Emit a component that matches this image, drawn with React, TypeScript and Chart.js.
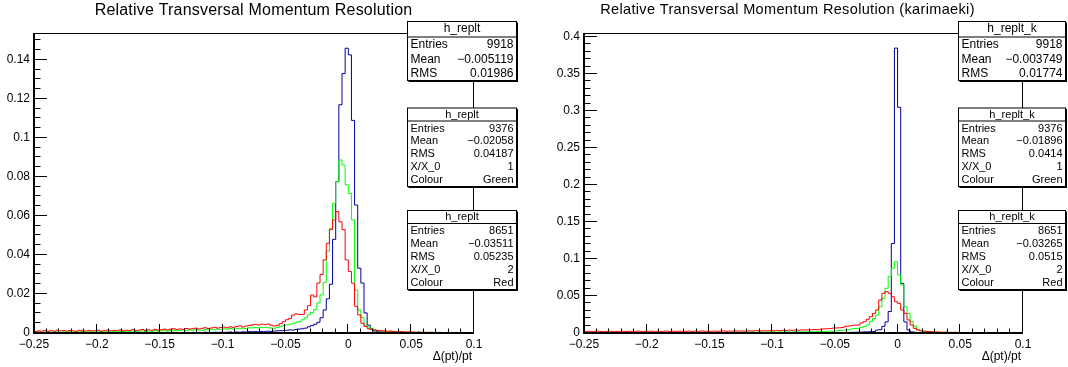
import React, { useEffect, useRef } from "react";
import { Chart, registerables } from "chart.js";

Chart.register(...registerables);

const FONT = "'Liberation Sans', Arial, Helvetica, sans-serif";

// Shared histogram binning: 140 bins of 0.0025 between -0.25 and 0.1
const BIN_LOW = -0.25;
const BIN_HIGH = 0.1;
const BIN_COUNT = 140;

const xTickValues = [-0.25, -0.2, -0.15, -0.1, -0.05, 0, 0.05, 0.1];
const xTickLabels = ["\u22120.25", "\u22120.2", "\u22120.15", "\u22120.1", "\u22120.05", "0", "0.05", "0.1"];
const yTickValuesStd = [0, 0.02, 0.04, 0.06, 0.08, 0.1, 0.12, 0.14];
const yTickLabelsStd = ["0", "0.02", "0.04", "0.06", "0.08", "0.1", "0.12", "0.14"];
const yTickValuesKari = [0, 0.05, 0.1, 0.15, 0.2, 0.25, 0.3, 0.35, 0.4];
const yTickLabelsKari = ["0", "0.05", "0.1", "0.15", "0.2", "0.25", "0.3", "0.35", "0.4"];

// h_replt: standard fit, normalised bin contents
const replBlue = [
  0, 0, 0, 0.0001, 0, 0, 0, 0, 0.0001, 0,
  0, 0, 0.0001, 0, 0, 0, 0.0001, 0, 0, 0.0001,
  0, 0.0001, 0, 0, 0.0001, 0, 0.0001, 0, 0.0001, 0.0001,
  0, 0.0001, 0.0002, 0.0001, 0, 0.0001, 0.0002, 0.0001, 0.0001, 0.0002,
  0.0001, 0.0002, 0.0001, 0.0002, 0.0003, 0.0002, 0.0001, 0.0002, 0.0003, 0.0002,
  0.0003, 0.0002, 0.0003, 0.0002, 0.0004, 0.0003, 0.0002, 0.0004, 0.0003, 0.0004,
  0.0003, 0.0004, 0.0005, 0.0003, 0.0005, 0.0004, 0.0006, 0.0005, 0.0007, 0.0006,
  0.0007, 0.0006, 0.0008, 0.0007, 0.0009, 0.0008, 0.001, 0.0011, 0.0012, 0.0013,
  0.0014, 0.0016, 0.0015, 0.0018, 0.002, 0.0022, 0.0025, 0.0032, 0.0038, 0.0045,
  0.0055, 0.0078, 0.0118, 0.0175, 0.025, 0.048, 0.0776, 0.117, 0.133, 0.146,
  0.1426, 0.109, 0.0656, 0.0332, 0.0256, 0.0103, 0.004, 0.002, 0.001, 0.0006,
  0.0005, 0.0004, 0.0003, 0.0003, 0.0002, 0.0002, 0.0001, 0.0002, 0.0001, 0.0001,
  0.0001, 0, 0.0001, 0, 0.0001, 0, 0, 0.0001, 0, 0,
  0, 0.0001, 0, 0, 0, 0, 0.0001, 0, 0, 0,
];
const replGreen = [
  0.0004, 0.0006, 0.0003, 0.0005, 0.0007, 0.0004, 0.0006, 0.0005, 0.0003, 0.0006,
  0.0005, 0.0007, 0.0004, 0.0006, 0.0005, 0.0008, 0.0004, 0.0006, 0.0007, 0.0005,
  0.0006, 0.0008, 0.0005, 0.0007, 0.0006, 0.0009, 0.0006, 0.0008, 0.0007, 0.0009,
  0.0008, 0.001, 0.0007, 0.0009, 0.0011, 0.0008, 0.001, 0.0009, 0.0012, 0.001,
  0.0011, 0.0013, 0.001, 0.0012, 0.0014, 0.0011, 0.0013, 0.0015, 0.0012, 0.0016,
  0.0014, 0.0017, 0.0015, 0.0013, 0.0018, 0.0016, 0.0019, 0.0017, 0.002, 0.0018,
  0.0021, 0.0019, 0.0023, 0.002, 0.0024, 0.0022, 0.0025, 0.0023, 0.0027, 0.0026,
  0.0028, 0.0026, 0.003, 0.0029, 0.0027, 0.0025, 0.0024, 0.0028, 0.0034, 0.0038,
  0.0042, 0.0045, 0.0048, 0.0055, 0.0058, 0.0068, 0.0078, 0.0093, 0.0105, 0.012,
  0.0154, 0.0195, 0.026, 0.042, 0.0537, 0.0665, 0.0776, 0.0887, 0.0862, 0.076,
  0.0715, 0.058, 0.022, 0.0118, 0.008, 0.004, 0.003, 0.002, 0.0016, 0.0013,
  0.0011, 0.001, 0.0008, 0.0009, 0.0007, 0.0006, 0.0007, 0.0005, 0.0004, 0.0005,
  0.0004, 0.0003, 0.0004, 0.0003, 0.0002, 0.0003, 0.0002, 0.0002, 0.0003, 0.0001,
  0.0002, 0.0002, 0.0001, 0.0002, 0.0001, 0.0001, 0.0002, 0.0001, 0.0001, 0.0001,
];
const replRed = [
  0.0008, 0.0011, 0.0009, 0.0013, 0.001, 0.0012, 0.0009, 0.0014, 0.0011, 0.0013,
  0.001, 0.0013, 0.0011, 0.0009, 0.0014, 0.0012, 0.001, 0.0013, 0.0011, 0.0012,
  0.0014, 0.001, 0.0012, 0.0015, 0.0011, 0.0013, 0.0012, 0.0016, 0.0011, 0.0014,
  0.0013, 0.0017, 0.0012, 0.0015, 0.0018, 0.0013, 0.0016, 0.0014, 0.0019, 0.0015,
  0.0017, 0.002, 0.0016, 0.0019, 0.0022, 0.0018, 0.0021, 0.0019, 0.0023, 0.002,
  0.0022, 0.0025, 0.0021, 0.0024, 0.0027, 0.0023, 0.0026, 0.0029, 0.0025, 0.0028,
  0.003, 0.0027, 0.0032, 0.0029, 0.0033, 0.0036, 0.0031, 0.0035, 0.0039, 0.0042,
  0.0044, 0.0041, 0.0045, 0.0043, 0.0046, 0.004, 0.0036, 0.0039, 0.0048, 0.0058,
  0.0068, 0.0075, 0.0092, 0.0098, 0.0095, 0.0095, 0.0118, 0.014, 0.0195, 0.0185,
  0.0256, 0.03, 0.0375, 0.046, 0.053, 0.058, 0.0622, 0.057, 0.053, 0.0375,
  0.0315, 0.0256, 0.0137, 0.0093, 0.005, 0.0034, 0.0022, 0.0018, 0.0016, 0.0013,
  0.0012, 0.0011, 0.0009, 0.001, 0.0008, 0.0007, 0.0008, 0.0006, 0.0005, 0.0006,
  0.0005, 0.0004, 0.0005, 0.0003, 0.0004, 0.0003, 0.0004, 0.0002, 0.0003, 0.0003,
  0.0002, 0.0003, 0.0002, 0.0002, 0.0003, 0.0001, 0.0002, 0.0002, 0.0001, 0.0002,
];

// h_replt_k: Karimaeki fit, normalised bin contents
const replKBlue = [
  0, 0, 0, 0, 0.0001, 0, 0, 0, 0, 0,
  0, 0, 0, 0.0001, 0, 0, 0, 0, 0, 0.0001,
  0, 0, 0, 0, 0, 0.0001, 0, 0, 0, 0,
  0.0001, 0, 0, 0, 0.0001, 0, 0, 0.0001, 0, 0,
  0, 0.0001, 0, 0, 0.0001, 0, 0.0001, 0, 0.0001, 0,
  0.0001, 0, 0.0001, 0.0002, 0, 0.0001, 0.0001, 0.0002, 0.0001, 0.0001,
  0.0002, 0.0001, 0.0002, 0.0002, 0.0001, 0.0003, 0.0002, 0.0002, 0.0003, 0.0002,
  0.0003, 0.0003, 0.0002, 0.0004, 0.0003, 0.0004, 0.0003, 0.0005, 0.0004, 0.0004,
  0.0004, 0.0005, 0.0006, 0.0007, 0.0008, 0.0009, 0.001, 0.0011, 0.0012, 0.0015,
  0.0015, 0.002, 0.002, 0.004, 0.0045, 0.009, 0.015, 0.029, 0.121, 0.385,
  0.305, 0.067, 0.015, 0.004, 0.0015, 0.001, 0.0007, 0.0005, 0.0004, 0.0003,
  0.0003, 0.0002, 0.0002, 0.0001, 0.0002, 0.0001, 0.0001, 0, 0.0001, 0,
  0.0001, 0, 0, 0.0001, 0, 0, 0, 0, 0.0001, 0,
  0, 0, 0, 0, 0, 0, 0, 0, 0, 0,
];
const replKGreen = [
  0.0005, 0.0008, 0.0006, 0.0004, 0.0007, 0.0005, 0.0009, 0.0006, 0.0005, 0.0007,
  0.0006, 0.0008, 0.0005, 0.0007, 0.0009, 0.0006, 0.0005, 0.0008, 0.0007, 0.0006,
  0.0008, 0.0006, 0.0009, 0.0007, 0.0005, 0.0008, 0.0007, 0.001, 0.0006, 0.0008,
  0.0007, 0.0009, 0.0008, 0.0006, 0.001, 0.0008, 0.0007, 0.0009, 0.0011, 0.0008,
  0.0009, 0.0008, 0.0011, 0.001, 0.0008, 0.0012, 0.0009, 0.001, 0.0011, 0.0009,
  0.0012, 0.001, 0.0011, 0.0013, 0.001, 0.0012, 0.0014, 0.0011, 0.0013, 0.0012,
  0.0014, 0.0012, 0.0015, 0.0013, 0.0016, 0.0014, 0.0013, 0.0017, 0.0015, 0.0016,
  0.0015, 0.0017, 0.0016, 0.0014, 0.0018, 0.0018, 0.002, 0.0022, 0.0025, 0.0024,
  0.0028, 0.0032, 0.0036, 0.004, 0.0045, 0.0055, 0.006, 0.0063, 0.0075, 0.0086,
  0.0108, 0.0153, 0.0198, 0.0243, 0.0356, 0.0469, 0.0604, 0.0761, 0.0874, 0.0964,
  0.0784, 0.0649, 0.0356, 0.0266, 0.0153, 0.0095, 0.005, 0.003, 0.0025, 0.002,
  0.0016, 0.0014, 0.0012, 0.001, 0.0009, 0.0008, 0.0007, 0.0008, 0.0006, 0.0005,
  0.0006, 0.0004, 0.0005, 0.0004, 0.0003, 0.0004, 0.0003, 0.0002, 0.0003, 0.0002,
  0.0002, 0.0003, 0.0002, 0.0001, 0.0002, 0.0002, 0.0001, 0.0002, 0.0001, 0.0001,
];
const replKRed = [
  0.0019, 0.0023, 0.0018, 0.0021, 0.0025, 0.002, 0.0017, 0.0022, 0.0024, 0.0019,
  0.0021, 0.0018, 0.0023, 0.002, 0.0024, 0.0019, 0.0022, 0.0026, 0.002, 0.0023,
  0.0022, 0.0025, 0.0019, 0.0024, 0.0021, 0.0023, 0.0026, 0.002, 0.0024, 0.0022,
  0.0025, 0.0021, 0.0024, 0.0027, 0.0022, 0.0025, 0.0023, 0.0027, 0.0024, 0.0021,
  0.0024, 0.0027, 0.0023, 0.0026, 0.0028, 0.0024, 0.0027, 0.0025, 0.0029, 0.0026,
  0.0028, 0.0025, 0.003, 0.0027, 0.0029, 0.0032, 0.0028, 0.0031, 0.003, 0.0034,
  0.0031, 0.0035, 0.0033, 0.0037, 0.0034, 0.0038, 0.0036, 0.004, 0.0038, 0.0042,
  0.004, 0.0044, 0.0043, 0.0047, 0.0045, 0.005, 0.0055, 0.0058, 0.006, 0.0065,
  0.0068, 0.007, 0.0075, 0.009, 0.0095, 0.01, 0.0105, 0.0108, 0.0135, 0.0153,
  0.0185, 0.022, 0.0266, 0.031, 0.0446, 0.0536, 0.0559, 0.0536, 0.049, 0.0423,
  0.0401, 0.031, 0.0266, 0.0176, 0.0108, 0.0063, 0.004, 0.003, 0.0025, 0.002,
  0.0018, 0.0015, 0.0013, 0.0012, 0.001, 0.0011, 0.0009, 0.0008, 0.0009, 0.0007,
  0.0006, 0.0007, 0.0005, 0.0006, 0.0004, 0.0005, 0.0004, 0.0003, 0.0004, 0.0003,
  0.0003, 0.0002, 0.0003, 0.0002, 0.0002, 0.0001, 0.0002, 0.0002, 0.0001, 0.0001,
];

// Statistics box contents
const statsShortLabels = ["Entries", "Mean", "RMS"];
const statsLongLabels = ["Entries", "Mean", "RMS", "X/X_0", "Colour"];
const replStatsBlue = ["9918", "\u22120.005119", "0.01986"];
const replStatsGreen = ["9376", "\u22120.02058", "0.04187", "1", "Green"];
const replStatsRed = ["8651", "\u22120.03511", "0.05235", "2", "Red"];
const replKStatsBlue = ["9918", "\u22120.003749", "0.01774"];
const replKStatsGreen = ["9376", "\u22120.01896", "0.0414", "1", "Green"];
const replKStatsRed = ["8651", "\u22120.03265", "0.0515", "2", "Red"];

const BLUE = "#000099";
const GREEN = "#00ff00";
const RED = "#ff0000";

type PanelCfg = {
  offset: number;
  title: string;
  titleSize: number;
  titleSpacing: number;
  titleBase: number;
  yMax: number;
  yTicks: number[];
  yLabels: string[];
  yMinorStep: number;
  yMinorPerMajor: number;
  yAxisWidth: number;
  rightPad: number;
  boxLeft: number;
  boxRight: number;
  statsTitle: string;
  blue: number[];
  green: number[];
  red: number[];
  statsBlue: string[];
  statsGreen: string[];
  statsRed: string[];
};

const PANELS: PanelCfg[] = [
  {
    offset: 0,
    title: "Relative Transversal Momentum Resolution",
    titleSize: 16,
    titleSpacing: 0.2,
    titleBase: 15,
    yMax: 0.1538,
    yTicks: yTickValuesStd,
    yLabels: yTickLabelsStd,
    yMinorStep: 0.005,
    yMinorPerMajor: 4,
    yAxisWidth: 34,
    rightPad: 60,
    boxLeft: 407.5,
    boxRight: 516.5,
    statsTitle: "h_replt",
    blue: replBlue,
    green: replGreen,
    red: replRed,
    statsBlue: replStatsBlue,
    statsGreen: replStatsGreen,
    statsRed: replStatsRed,
  },
  {
    offset: 534,
    title: "Relative Transversal Momentum Resolution (karimaeki)",
    titleSize: 14.5,
    titleSpacing: 0.35,
    titleBase: 14,
    yMax: 0.4054,
    yTicks: yTickValuesKari,
    yLabels: yTickLabelsKari,
    yMinorStep: 0.01,
    yMinorPerMajor: 5,
    yAxisWidth: 50,
    rightPad: 45,
    boxLeft: 424.5,
    boxRight: 531.5,
    statsTitle: "h_replt_k",
    blue: replKBlue,
    green: replKGreen,
    red: replKRed,
    statsBlue: replKStatsBlue,
    statsGreen: replKStatsGreen,
    statsRed: replKStatsRed,
  },
];

// Vertical layout of the three stacked statistics boxes
const BOX_LAYOUT = [
  { top: 21.5, bottom: 80.5, sep: 37, titleY: 29, rows: [44.5, 59.5, 74], size: 12 },
  { top: 108, bottom: 186.5, sep: 121, titleY: 114.5, rows: [128.5, 141, 153.5, 166.5, 179.5], size: 11 },
  { top: 210.5, bottom: 289.5, sep: 223.5, titleY: 217, rows: [231, 243.5, 256.5, 269.5, 283], size: 11 },
];

function histPoints(values: number[]) {
  const width = (BIN_HIGH - BIN_LOW) / BIN_COUNT;
  const pts = values.map((v, i) => ({ x: BIN_LOW + i * width, y: v }));
  pts.push({ x: BIN_HIGH, y: values[values.length - 1] });
  return pts;
}

function makeDecorations(cfg: PanelCfg) {
  return {
    id: "rootFrame",
    afterDraw(chart: any) {
      const ctx: any = chart.ctx;
      const { left, right, top, bottom } = chart.chartArea;
      const xs = chart.scales.x;
      const ys = chart.scales.y;
      ctx.save();
      ctx.fillStyle = "#000";
      ctx.strokeStyle = "#000";
      // frame
      ctx.fillRect(left, top, right - left, 1);
      ctx.fillRect(right - 1, top, 1, bottom - top);
      ctx.fillRect(left - 1, top, 2, bottom - top + 1);
      ctx.fillRect(left - 1, bottom - 1, right - left + 1, 2);

      // x ticks, pointing into the frame
      ctx.lineWidth = 1;
      ctx.beginPath();
      const nx = Math.round((BIN_HIGH - BIN_LOW) / 0.01);
      for (let j = 0; j <= nx; j++) {
        const v = BIN_LOW + j * 0.01;
        const px = Math.round(xs.getPixelForValue(v)) - 0.5;
        const len = j % 5 === 0 ? 9 : 4.5;
        ctx.moveTo(px, bottom);
        ctx.lineTo(px, bottom - len);
      }
      // y ticks
      const ny = Math.floor(cfg.yMax / cfg.yMinorStep + 1e-6);
      for (let j = 0; j <= ny; j++) {
        const v = j * cfg.yMinorStep;
        const py = Math.round(ys.getPixelForValue(v)) - 0.5;
        const len = j % cfg.yMinorPerMajor === 0 ? 13 : 6.5;
        ctx.moveTo(left, py);
        ctx.lineTo(left + len, py);
      }
      ctx.stroke();

      // title
      ctx.font = `${cfg.titleSize}px ${FONT}`;
      ctx.textAlign = "center";
      ctx.textBaseline = "alphabetic";
      if ("letterSpacing" in ctx) ctx.letterSpacing = `${cfg.titleSpacing}px`;
      ctx.fillText(cfg.title, 253.5, cfg.titleBase);
      if ("letterSpacing" in ctx) ctx.letterSpacing = "0px";

      // axis title
      ctx.font = `12px ${FONT}`;
      ctx.textAlign = "right";
      ctx.fillText("\u0394(pt)/pt", xs.getPixelForValue(0.1) - 2, 360);

      // statistics boxes
      const contents = [
        { labels: statsShortLabels, values: cfg.statsBlue },
        { labels: statsLongLabels, values: cfg.statsGreen },
        { labels: statsLongLabels, values: cfg.statsRed },
      ];
      BOX_LAYOUT.forEach((b, k) => {
        const x0 = cfg.boxLeft;
        const x1 = cfg.boxRight;
        ctx.fillStyle = "#fff";
        ctx.fillRect(x0, b.top, x1 - x0, b.bottom - b.top);
        ctx.fillStyle = "#000";
        ctx.lineWidth = 1;
        ctx.strokeRect(x0, b.top, x1 - x0, b.bottom - b.top);
        // shadow
        ctx.fillRect(x1 + 0.5, b.top + 1, 1, b.bottom - b.top + 0.5);
        ctx.fillRect(x0 + 1, b.bottom + 0.5, x1 - x0 + 0.5, 1);
        ctx.beginPath();
        ctx.moveTo(x0, b.sep);
        ctx.lineTo(x1, b.sep);
        ctx.stroke();
        ctx.font = `${b.size}px ${FONT}`;
        ctx.textBaseline = "middle";
        ctx.textAlign = "center";
        ctx.fillText(cfg.statsTitle, (x0 + x1) / 2, b.titleY);
        const c = contents[k];
        c.labels.forEach((lab, r) => {
          ctx.textAlign = "left";
          ctx.fillText(lab, x0 + 3, b.rows[r]);
          ctx.textAlign = "right";
          ctx.fillText(c.values[r], x1 - 3, b.rows[r]);
        });
      });
      ctx.restore();
    },
  };
}

function Panel({ cfg }: { cfg: PanelCfg }) {
  const ref = useRef<HTMLCanvasElement>(null);
  useEffect(() => {
    if (!ref.current) return;
    const chart = new Chart(ref.current, {
      type: "line",
      data: {
        datasets: [
          { data: histPoints(cfg.red), borderColor: RED, order: 0 },
          { data: histPoints(cfg.green), borderColor: GREEN, order: 1 },
          { data: histPoints(cfg.blue), borderColor: BLUE, order: 2 },
        ].map((d) => ({
          ...d,
          borderWidth: 1,
          pointRadius: 0,
          fill: false,
          stepped: "before" as const,
          tension: 0,
        })),
      },
      options: {
        animation: false,
        responsive: false,
        events: [],
        layout: { padding: { top: 33, right: cfg.rightPad, left: 0, bottom: 0 } },
        plugins: { legend: { display: false }, tooltip: { enabled: false }, title: { display: false } },
        scales: {
          x: {
            type: "linear",
            min: BIN_LOW,
            max: BIN_HIGH,
            grid: { display: false, drawTicks: false },
            border: { display: false },
            afterFit: (s: any) => {
              s.height = 34;
            },
            afterBuildTicks: (s: any) => {
              s.ticks = xTickValues.map((v) => ({ value: v }));
            },
            ticks: {
              autoSkip: false,
              maxRotation: 0,
              padding: 4,
              color: "#000",
              font: { family: FONT, size: 12 },
              callback: (_v: any, i: number) => xTickLabels[i],
            },
          },
          y: {
            type: "linear",
            min: 0,
            max: cfg.yMax,
            grid: { display: false, drawTicks: false },
            border: { display: false },
            afterFit: (s: any) => {
              s.width = cfg.yAxisWidth;
            },
            afterBuildTicks: (s: any) => {
              s.ticks = cfg.yTicks.map((v) => ({ value: v }));
            },
            ticks: {
              autoSkip: false,
              padding: 4,
              color: "#000",
              font: { family: FONT, size: 12 },
              callback: (_v: any, i: number) => cfg.yLabels[i],
            },
          },
        },
      },
      plugins: [makeDecorations(cfg)],
    } as any);
    return () => chart.destroy();
  }, [cfg]);
  return (
    <canvas
      ref={ref}
      width={534}
      height={367}
      style={{ position: "absolute", left: cfg.offset, top: 0, width: 534, height: 367 }}
    />
  );
}

export default function App() {
  return (
    <div style={{ position: "absolute", left: 0, top: 0, width: 1068, height: 367, background: "#fff" }}>
      {PANELS.map((p) => (
        <Panel key={p.offset} cfg={p} />
      ))}
    </div>
  );
}
